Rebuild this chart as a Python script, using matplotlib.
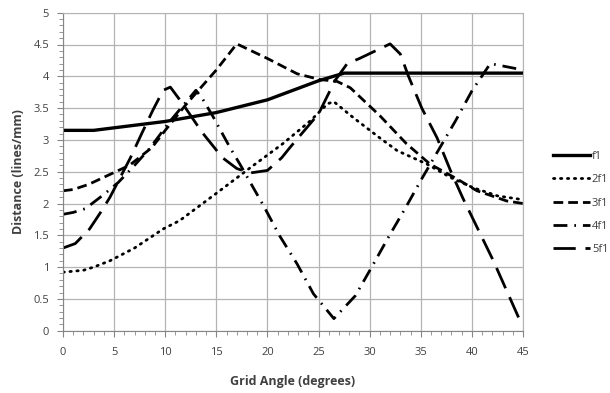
import matplotlib
matplotlib.use("Agg")
import matplotlib.pyplot as plt
from matplotlib.ticker import MultipleLocator

# data (grid angle in degrees, distance in lines/mm)
f1_x = [0, 3, 5, 10, 15, 20, 25, 27.5, 45]
f1_y = [3.15, 3.15, 3.19, 3.29, 3.43, 3.63, 3.93, 4.05, 4.05]

f2_x = [0, 2, 3, 4.6, 7, 9.8, 11.4, 15, 18.3, 21.5, 24.2, 25.9, 26.5, 28.4, 31, 32.7,
        35.6, 37.9, 40.1, 42.5, 45]
f2_y = [0.92, 0.95, 1.0, 1.1, 1.3, 1.6, 1.73, 2.16, 2.56, 2.94, 3.3, 3.57, 3.6, 3.35,
        3.03, 2.83, 2.62, 2.41, 2.25, 2.12, 2.06]

f3_x = [0, 1, 2.5, 4.5, 6.5, 8.7, 10, 12, 15, 17, 20, 22.9, 25.1, 26.8, 28.1, 31,
        33.6, 35.9, 38.5, 40.5, 43.4, 45]
f3_y = [2.2, 2.22, 2.3, 2.45, 2.6, 2.88, 3.15, 3.55, 4.1, 4.51, 4.28, 4.04, 3.95, 3.92,
        3.82, 3.38, 2.94, 2.62, 2.39, 2.2, 2.04, 2.0]

f4_x = [0, 1, 2.2, 3.9, 5.4, 7, 8.5, 10.5, 13, 13.6, 14.7, 16.3, 17.3, 19.6, 21.2,
        22.9, 24.5, 26.5, 28.6, 30.2, 31.8, 33.5, 35.1, 38.4, 40, 41.8, 45]
f4_y = [1.83, 1.86, 1.92, 2.13, 2.33, 2.6, 2.87, 3.3, 3.78, 3.66, 3.36, 2.89, 2.62,
        1.97, 1.49, 1.05, 0.58, 0.19, 0.55, 1.0, 1.46, 1.93, 2.39, 3.3, 3.77, 4.2, 4.1]

f5_x = [0, 1.2, 2.6, 3.8, 4.6, 6.6, 7.7, 8.8, 9.8, 10.5, 11.7, 13.6, 15.6, 17, 18.3,
        20, 21.4, 22.2, 25, 26.6, 27.8, 29, 32, 33, 33.8, 35.1, 36.6, 37.9, 39.1,
        42.1, 44.7, 45]
f5_y = [1.3, 1.37, 1.6, 1.89, 2.1, 2.72, 3.1, 3.47, 3.78, 3.83, 3.57, 3.12, 2.72,
        2.55, 2.48, 2.52, 2.72, 2.88, 3.41, 3.93, 4.2, 4.28, 4.51, 4.35, 4.0, 3.5,
        3.03, 2.52, 2.09, 1.1, 0.16, 0.08]

labels = ["f1", "2f1", "3f1", "4f1", "5f1"]

plt.rcParams["font.family"] = ["Open Sans", "DejaVu Sans"]
txt = "#404040"

fig = plt.figure(figsize=(6.1, 3.93), dpi=100)
ax = fig.add_axes([63 / 610, 1 - 330.7 / 393, 460 / 610, 318 / 393])

lw = 2.0
ax.plot(f1_x, f1_y, color="black", lw=2.4, ls="-", label=labels[0])
ax.plot(f2_x, f2_y, color="black", lw=lw, ls=(0, (0.5, 2.0)),
        dash_capstyle="round", label=labels[1])
ax.plot(f3_x, f3_y, color="black", lw=lw, ls=(0, (3.5, 1.8)), label=labels[2])
ax.plot(f4_x, f4_y, color="black", lw=lw, ls=(0, (5, 2.5, 0.6, 2.5)), label=labels[3])
ax.plot(f5_x, f5_y, color="black", lw=lw, ls=(0, (8, 3.5)), label=labels[4])

ax.set_xlim(0, 45)
ax.set_ylim(0, 5)
ax.xaxis.set_major_locator(MultipleLocator(5))
ax.xaxis.set_minor_locator(MultipleLocator(1))
ax.yaxis.set_minor_locator(MultipleLocator(0.1))
ax.set_yticks([0, 0.5, 1, 1.5, 2, 2.5, 3, 3.5, 4, 4.5, 5])
ax.set_yticklabels(["0", "0.5", "1", "1.5", "2", "2.5", "3", "3.5", "4", "4.5", "5"])

ax.grid(True, which="major", color="#b4b4b4", lw=0.9)
ax.set_axisbelow(True)
for s in ["top", "right"]:
    ax.spines[s].set_color("#b4b4b4")
for s in ["left", "bottom"]:
    ax.spines[s].set_color("#868686")
ax.tick_params(which="both", direction="out", color="#868686", labelcolor=txt,
               labelsize=8)
ax.tick_params(which="major", length=4)
ax.tick_params(which="minor", length=3)
ax.tick_params(axis="x", which="major", pad=8)
ax.tick_params(axis="y", which="major", pad=6)

ax.set_xlabel("Grid Angle (degrees)", fontsize=9, fontweight="bold", color=txt,
              labelpad=12)
ax.set_ylabel("Distance (lines/mm)", fontsize=9, fontweight="bold", color=txt,
              labelpad=6)

fig.legend(loc="center left", bbox_to_anchor=(553 / 610, 1 - 203 / 393),
           frameon=False, fontsize=8, handlelength=3.3, handletextpad=0.2,
           labelspacing=1.1, borderpad=0, borderaxespad=0, labelcolor=txt)

fig.savefig("out.png", dpi=100)
